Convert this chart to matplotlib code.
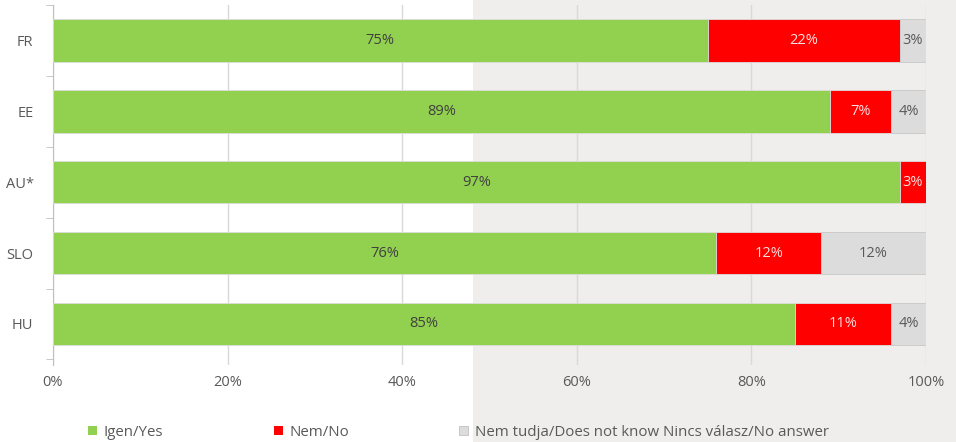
import numpy as np
import matplotlib.pyplot as plt
from matplotlib.patches import Rectangle, Patch

plt.rcParams['font.family'] = ['Open Sans', 'DejaVu Sans']

# data
countries = ["FR", "EE", "AU*", "SLO", "HU"]
yes = [75, 89, 97, 76, 85]
no = [22, 7, 3, 12, 11]
dk = [3, 4, 0, 12, 4]
series_names = ["Igen/Yes", "Nem/No", "Nem tudja/Does not know Nincs válasz/No answer"]

c_yes = "#92d050"
c_no = "#ff0000"
c_dk = "#dcdcdc"

fig = plt.figure(figsize=(9.56, 4.42), dpi=100)
fig.patch.set_facecolor("white")
# light grey panel on the right half of the picture
fig.patches.append(Rectangle((0.4948, 0), 0.5052, 1, transform=fig.transFigure,
                             facecolor="#efeeec", edgecolor="none", zorder=-10))

ax = fig.add_axes([0.0554, 0.174, 0.9132, 0.8147])
ax.set_facecolor("none")

y = np.arange(len(countries))
h = 0.6
yes_a = np.array(yes)
no_a = np.array(no)
dk_a = np.array(dk)

ax.barh(y, yes_a, height=h, color=c_yes, edgecolor="#dddddd", linewidth=0.6, zorder=3)
ax.barh(y, no_a, left=yes_a, height=h, color=c_no, edgecolor="#dddddd", linewidth=0.6, zorder=3)
ax.barh(y, dk_a, left=yes_a + no_a, height=h, color=c_dk, edgecolor="#c8c8c8", linewidth=0.6, zorder=3)

for i in range(len(countries)):
    ax.text(yes_a[i] / 2, y[i], f"{yes[i]}%", ha="center", va="center",
            fontsize=10.5, color="#404040", zorder=4)
    if no[i] > 0:
        ax.text(yes_a[i] + no_a[i] / 2, y[i], f"{no[i]}%", ha="center", va="center",
                fontsize=10.5, color="#ffe0e0", zorder=4)
    if dk[i] > 0:
        ax.text(yes_a[i] + no_a[i] + dk_a[i] / 2, y[i], f"{dk[i]}%", ha="center", va="center",
                fontsize=10.5, color="#595959", zorder=4)

ax.set_xlim(0, 100)
ax.set_ylim(len(countries) - 0.5 + 0.08, -0.5)
ax.set_xticks(np.arange(0, 101, 20))
ax.set_xticklabels([f"{v}%" for v in range(0, 101, 20)], fontsize=10.5, color="#595959")
ax.set_yticks(y)
ax.set_yticklabels(countries, fontsize=10.5, color="#595959")
ax.set_yticks(np.arange(-0.5, len(countries), 1), minor=True)
ax.tick_params(axis="y", which="major", length=0, pad=14)
ax.tick_params(axis="y", which="minor", length=5, color="#bfbfbf")
ax.tick_params(axis="x", length=0, pad=7)
ax.grid(axis="x", color="#d9d9d9", linewidth=1, zorder=0)
for s in ["top", "right", "bottom"]:
    ax.spines[s].set_visible(False)
ax.spines["left"].set_color("#bfbfbf")

handles = [Patch(facecolor=c_yes), Patch(facecolor=c_no),
           Patch(facecolor=c_dk, edgecolor="#c0c0c0", linewidth=0.6)]
fig.legend(handles, series_names, loc="center left", bbox_to_anchor=(0.078, 0.022),
           ncol=3, frameon=False, fontsize=10.8, handlelength=0.6, handleheight=0.6,
           handletextpad=0.45, columnspacing=7.35, labelcolor="#595959")

fig.savefig("out.png", dpi=100)
